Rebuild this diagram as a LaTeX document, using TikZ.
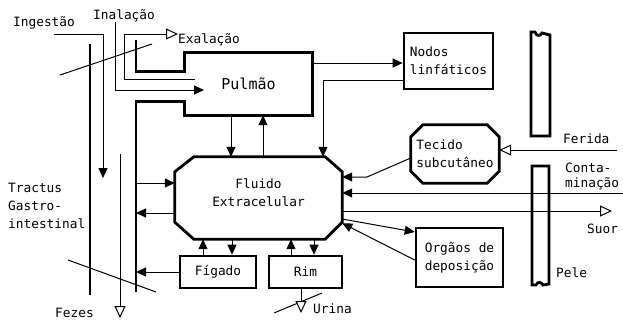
\documentclass[tikz,border=0pt]{standalone}
\usepackage{fontspec}
\newfontfamily\diagfont{DejaVu Sans Mono}
\usetikzlibrary{arrows.meta}

\begin{document}
\begin{tikzpicture}
	[x=1pt,y=-1pt,
	every node/.style={font=\diagfont\fontsize{12.8}{18}\selectfont,inner sep=0pt},
	txt/.style={anchor=base west},
	box/.style={draw,line width=2.6pt,align=left},
	wall/.style={line width=2.8pt},
	line/.style={line width=1pt},
	arr/.style={line,-{Triangle[length=10pt,width=9pt]}},
	oarr/.style={line,-{Triangle[open,length=12pt,width=11pt,fill=white]}}
	]
	\useasboundingbox (0,0) rectangle (623,325);
	\node[txt] (ingestao) at (13,26) {Ingestão};
	\node[txt] (inalacao) at (93,19.5) {Inalação};
	\node[txt] (exalacao) at (178,43.5) {Exalação};
	\node[txt] (ferida) at (563,143) {Ferida};
	\node[txt] (suor) at (587,233) {Suor};
	\node[txt] (pele) at (556,277) {Pele};
	\node[txt] (urina) at (313,313) {Urina};
	\node[txt] (fezes) at (55,317) {Fezes};
	\node[anchor=north west,align=left] (tractus) at (8,183) {Tractus\\Gastro-\\intestinal};
	\node[anchor=north west,align=left,font=\diagfont\fontsize{12.8}{15}\selectfont] (conta) at (565,163) {Conta-\\minação};
	\node[minimum width=127,minimum height=62,font=\diagfont\fontsize{15}{18}\selectfont] (pulmao) at (248.5,84) {Pulmão};
	\node[box,minimum width=89,minimum height=56] (nodos) at (448.5,61) {Nodos\\linfáticos};
	\node[minimum width=88,minimum height=58,align=left] (tecido) at (455,154) {Tecido\\subcutâneo};
	\node[minimum width=167,minimum height=82,align=center,text depth=10pt] (fluido) at (258.5,198) {Fluido\\Extracelular};
	\node[box,minimum width=76,minimum height=32] (figado) at (218,272) {Fígado};
	\node[box,minimum width=73,minimum height=32] (rim) at (305.5,272) {Rim};
	\node[box,minimum width=87,minimum height=59] (orgaos) at (459.5,257.5) {Orgãos de\\deposição};
	\coordinate (wall) at (136,0);
	\draw[wall] ([xshift=19pt]fluido.north west) -- ([xshift=-17pt]fluido.north east) -- ([yshift=-15pt]fluido.north east) -- ([yshift=17pt]fluido.south east) -- ([xshift=-17pt]fluido.south east) -- ([xshift=19pt]fluido.south west) -- ([yshift=17pt]fluido.south west) -- ([yshift=-15pt]fluido.north west) -- cycle;
	\draw[wall] ([xshift=12pt]tecido.north west) -- ([xshift=-12pt]tecido.north east) -- ([yshift=-12pt]tecido.north east) -- ([yshift=12pt]tecido.south east) -- ([xshift=-12pt]tecido.south east) -- ([xshift=12pt]tecido.south west) -- ([yshift=12pt]tecido.south west) -- ([yshift=-12pt]tecido.north west) -- cycle;
	\draw[wall] (wall |- 0,40) |- ([yshift=-19pt]pulmao.north west) -- (pulmao.north west) -- (pulmao.north east) -- (pulmao.south east) -- (pulmao.south west) -- ([yshift=14pt]pulmao.south west) -| (wall |- 0,292);
	\draw[wall] (90,44) -- (90,295);
	\draw[wall] (531,136) -- (531,32) -- (535,32) .. controls (537,37) and (540,36) .. (542,33) -- (550,35) -- (550,136) -- cycle;
	\draw[wall] (532,166) -- (532,285) -- (536,285) .. controls (538,281) and (541,282) .. (543,285) -- (549,284) -- (549,166) -- cycle;
	\draw[line] (60,75) -- (152,44);
	\draw[line] (68,260) -- (156,292);
	\draw[line] (274,313) -- (322,293);
	\draw[arr] (54,34) -| (103,178);
	\draw[arr] (115,22) |- (204,90);
	\draw[oarr] (195,79) -| (124,34) -- (exalacao.west |- 0,34);
	\draw[oarr] (120,154) -- (120,318);
	\draw[arr] (pulmao.south -| 231,0) -- (fluido.north -| 231,0);
	\draw[arr] (fluido.north -| 263,0) -- (pulmao.south -| 263,0);
	\draw[arr] (pulmao.east |- 0,63) -- (nodos.west |- 0,63);
	\draw[arr] (nodos.west |- 0,80) -| (fluido.north -| 323,0);
	\draw[arr] (tecido.west |- 0,158) -- (367,177) -- (fluido.east |- 0,177);
	\draw[oarr] (617,150) -- (tecido.east |- 0,150);
	\draw[arr] (623,193) -- (fluido.east |- 0,193);
	\draw[oarr] (fluido.east |- 0,211) -- (612,211);
	\draw[arr] (fluido.east |- 0,219) -- (orgaos.west |- 0,232);
	\draw[arr] (orgaos.west |- 0,260) -- ([yshift=16pt]fluido.south east);
	\draw[arr] (wall |- 0,183) -- (fluido.west |- 0,183);
	\draw[arr] (fluido.west |- 0,213) -- (wall |- 0,213);
	\draw[arr] (figado.west) -- (wall |- figado.west);
	\draw[arr] (figado.north -| 203,0) -- (fluido.south -| 203,0);
	\draw[arr] (fluido.south -| 232,0) -- (figado.north -| 232,0);
	\draw[arr] (rim.north -| 291,0) -- (fluido.south -| 291,0);
	\draw[arr] (fluido.south -| 314,0) -- (rim.north -| 314,0);
	\draw[oarr] (rim.south -| 301,0) -- (301,313);
\end{tikzpicture}
\end{document}
